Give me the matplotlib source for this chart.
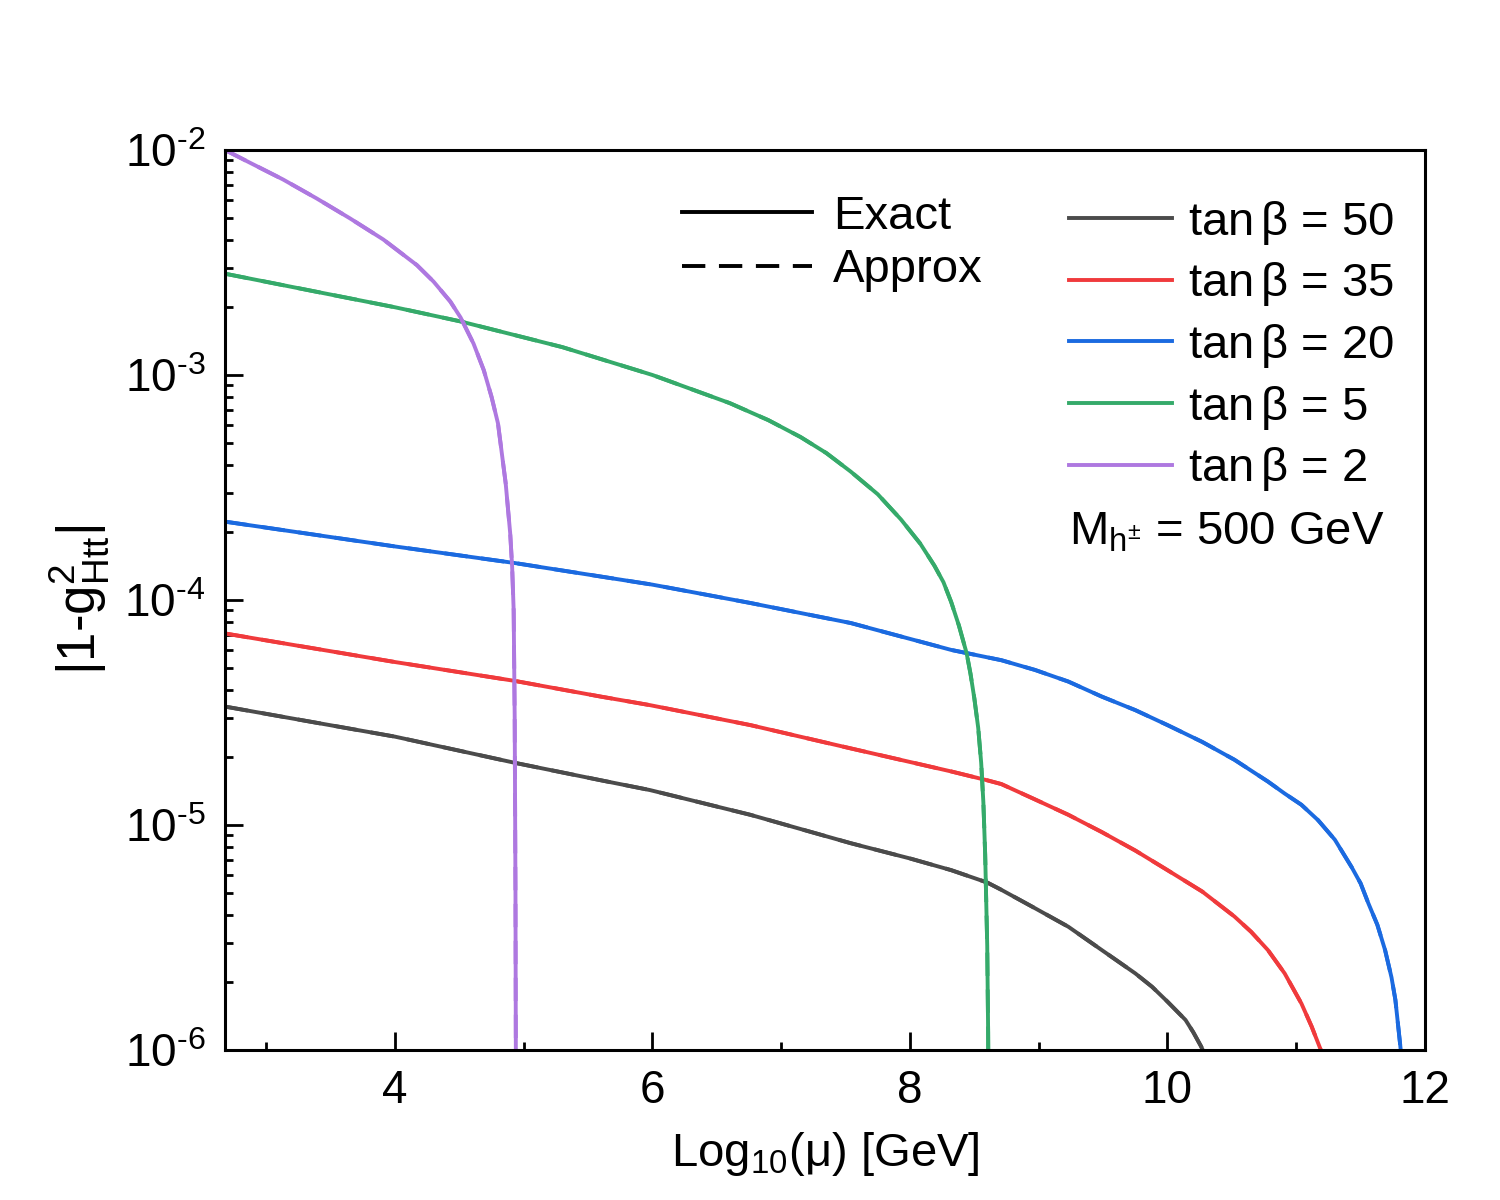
import matplotlib
matplotlib.use("Agg")
import matplotlib.pyplot as plt
from matplotlib.lines import Line2D
from matplotlib.ticker import LogLocator, MultipleLocator, NullFormatter, FuncFormatter
import numpy as np

plt.rcParams['font.family'] = ['Liberation Sans', 'DejaVu Sans']
plt.rcParams['mathtext.fontset'] = 'custom'
plt.rcParams['mathtext.rm'] = 'Liberation Sans'
plt.rcParams['mathtext.it'] = 'Liberation Sans:italic'
plt.rcParams['mathtext.bf'] = 'Liberation Sans:bold'

# log10(mu) and |1 - g^2_Htt|
x_tb50 = [2.68, 4.0, 4.93, 5.6, 5.98, 6.76, 7.54, 8.0, 8.32, 8.6, 8.71, 8.97, 9.23, 9.49,
          9.75, 9.88, 10.0, 10.14, 10.2, 10.26, 10.32]
y_tb50 = [3.36e-5, 2.47e-5, 1.89e-5, 1.58e-5, 1.43e-5, 1.11e-5, 8.3e-6, 7.1e-6, 6.3e-6, 5.55e-6,
          5.15e-6, 4.27e-6, 3.53e-6, 2.78e-6, 2.19e-6, 1.91e-6, 1.64e-6, 1.36e-6, 1.2e-6,
          1.04e-6, 8.8e-7]

x_tb35 = [2.68, 4.0, 4.93, 5.6, 5.98, 6.76, 7.54, 8.32, 8.6, 8.71, 8.97, 9.23, 9.49, 9.75,
          10.0, 10.27, 10.52, 10.65, 10.78, 10.91, 11.04, 11.12, 11.185, 11.22]
y_tb35 = [7.1e-5, 5.3e-5, 4.37e-5, 3.72e-5, 3.41e-5, 2.78e-5, 2.19e-5, 1.73e-5, 1.58e-5, 1.52e-5,
          1.3e-5, 1.11e-5, 9.3e-6, 7.7e-6, 6.3e-6, 5.06e-6, 3.92e-6, 3.35e-6, 2.78e-6, 2.19e-6,
          1.61e-6, 1.27e-6, 1.02e-6, 9.0e-7]

x_tb20 = [2.68, 4.0, 4.93, 6.0, 6.76, 7.54, 8.32, 8.71, 8.97, 9.23, 9.49, 9.75, 10.0, 10.27,
          10.52, 10.78, 10.91, 11.04, 11.17, 11.3, 11.43, 11.5, 11.56, 11.63, 11.69, 11.74,
          11.77, 11.81, 11.83]
y_tb20 = [2.23e-4, 1.73e-4, 1.46e-4, 1.17e-4, 9.7e-5, 7.9e-5, 6.0e-5, 5.4e-5, 4.89e-5, 4.34e-5,
          3.72e-5, 3.24e-5, 2.78e-5, 2.34e-5, 1.95e-5, 1.56e-5, 1.38e-5, 1.23e-5, 1.05e-5,
          8.6e-6, 6.5e-6, 5.5e-6, 4.49e-6, 3.6e-6, 2.78e-6, 2.1e-6, 1.67e-6, 1.02e-6, 7.9e-7]

x_tb5 = [2.68, 4.0, 4.51, 5.3, 6.0, 6.6, 6.9, 7.15, 7.35, 7.54, 7.75, 7.93, 8.08, 8.19, 8.26,
         8.32, 8.38, 8.44, 8.47, 8.5, 8.53, 8.553, 8.57, 8.584, 8.6, 8.607, 8.61]
y_tb5 = [2.82e-3, 2.0e-3, 1.73e-3, 1.33e-3, 1.0e-3, 7.5e-4, 6.3e-4, 5.3e-4, 4.5e-4, 3.72e-4,
         2.95e-4, 2.28e-4, 1.78e-4, 1.42e-4, 1.2e-4, 9.8e-5, 7.7e-5, 5.8e-5, 4.7e-5, 3.65e-5,
         2.7e-5, 1.89e-5, 1.26e-5, 7.4e-6, 2.9e-6, 1.2e-6, 6.0e-7]

x_tb2 = [2.68, 2.87, 3.13, 3.39, 3.65, 3.91, 4.17, 4.30, 4.43, 4.51, 4.61, 4.69, 4.75, 4.80,
         4.86, 4.895, 4.91, 4.922, 4.93, 4.936, 4.94]
y_tb2 = [1.0e-2, 8.8e-3, 7.4e-3, 6.1e-3, 4.97e-3, 4.0e-3, 3.08e-3, 2.6e-3, 2.12e-3, 1.8e-3,
         1.38e-3, 1.05e-3, 8.0e-4, 6.1e-4, 3.3e-4, 1.98e-4, 1.41e-4, 9.0e-5, 3.0e-5, 5.0e-6,
         5.0e-7]

series = [
    (x_tb50, y_tb50, '#4b4b4b', r'tan$\,\mathrm{\beta}$ = 50'),
    (x_tb35, y_tb35, '#f03a3c', r'tan$\,\mathrm{\beta}$ = 35'),
    (x_tb20, y_tb20, '#1b6ae0', r'tan$\,\mathrm{\beta}$ = 20'),
    (x_tb5, y_tb5, '#35aa6a', r'tan$\,\mathrm{\beta}$ = 5'),
    (x_tb2, y_tb2, '#ae78e0', r'tan$\,\mathrm{\beta}$ = 2'),
]

fig = plt.figure(figsize=(15, 12), dpi=100)
ax = fig.add_axes([0.15, 0.125, 0.80, 0.75])

for xs, ys, col, lab in series:
    ax.plot(xs, ys, color=col, lw=2.8, ls=(0, (6, 3.5)))
    ax.plot(xs, ys, color=col, lw=2.8)

ax.set_yscale('log')
ax.set_xlim(2.68, 12.0)
ax.set_ylim(1e-6, 1e-2)

ax.xaxis.set_major_locator(MultipleLocator(2))
ax.xaxis.set_minor_locator(MultipleLocator(1))
ax.yaxis.set_major_locator(LogLocator(base=10, numticks=10))
ax.yaxis.set_minor_locator(LogLocator(base=10, subs=range(2, 10), numticks=20))
ax.yaxis.set_minor_formatter(NullFormatter())
ax.yaxis.set_major_formatter(FuncFormatter(
    lambda v, pos: r'10$^{\text{-}%d}$' % int(round(-np.log10(v)))))

ax.tick_params(which='both', direction='in', top=False, right=False, width=2)
ax.tick_params(which='major', length=13, labelsize=33, pad=14)
ax.tick_params(which='minor', length=6)
for sp in ax.spines.values():
    sp.set_linewidth(2.2)

ax.set_xlabel(r'Log$_{10}$(μ) [GeV]', fontsize=34, labelpad=12)
ax.set_ylabel(r'|1-g$^{2}_{\mathrm{Htt}}$|', fontsize=38, labelpad=10)

h1 = [Line2D([], [], color='black', lw=2.8),
      Line2D([], [], color='black', lw=2.8, ls=(0, (6, 3.5)))]
leg1 = ax.legend(h1, ['Exact', 'Approx'], loc='upper left', bbox_to_anchor=(0.381, 0.950),
                 frameon=False, fontsize=34, handlelength=2.75, handletextpad=0.45,
                 labelspacing=0.2, borderpad=0, borderaxespad=0)
ax.add_artist(leg1)

h2 = [Line2D([], [], color=c, lw=2.8) for _, _, c, _ in series]
ax.legend(h2, [s[3] for s in series], loc='upper left', bbox_to_anchor=(0.703, 0.946),
          frameon=False, fontsize=34, handlelength=2.2, handletextpad=0.32,
          labelspacing=0.29, borderpad=0, borderaxespad=0)

ax.text(0.703, 0.575, r'M$_{\mathrm{h}^{\pm}}$ = 500 GeV', transform=ax.transAxes,
        fontsize=34, va='center', ha='left')

fig.savefig('out.png', dpi=100)
